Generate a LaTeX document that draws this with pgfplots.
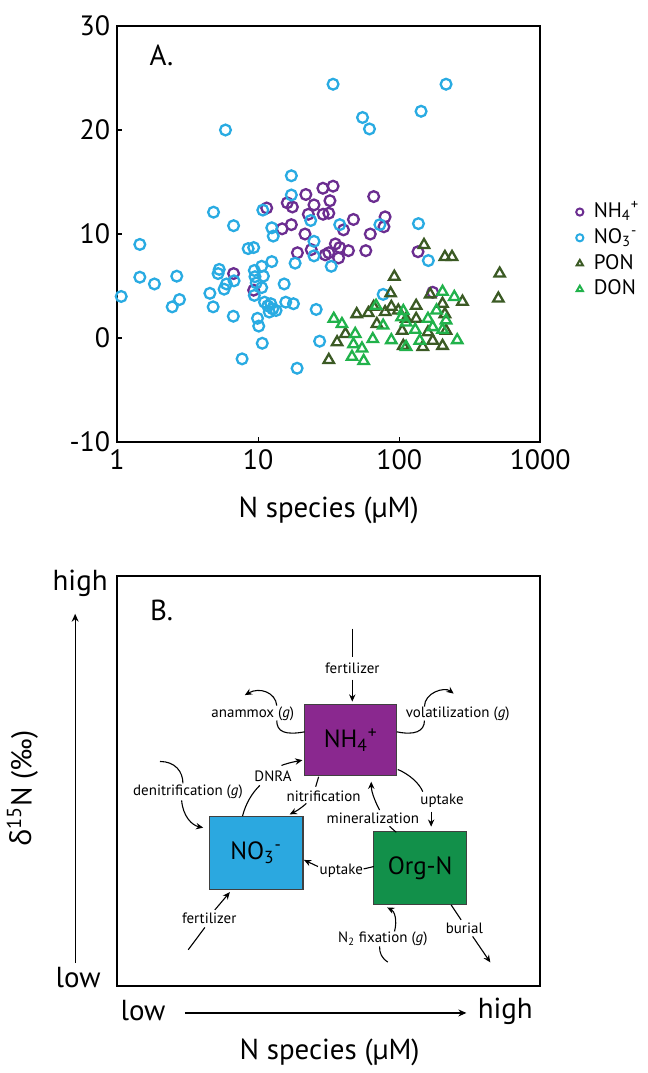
\documentclass[border=0pt]{standalone}
\usepackage{fontspec}
\setmainfont{PT Sans}
\newfontfamily\grk{Open Sans}
\usepackage{pgfplots}
\pgfplotsset{compat=1.18}
\usepackage{pgfplotstable}
\usetikzlibrary{arrows.meta}

\definecolor{cNH}{HTML}{6B2D90}
\definecolor{cNO}{HTML}{29ABE2}
\definecolor{cPON}{HTML}{3B5A24}
\definecolor{cDON}{HTML}{21B24B}
\definecolor{bNH}{HTML}{8A288F}
\definecolor{bNO}{HTML}{2BA8E0}
\definecolor{bORG}{HTML}{12904A}

\pgfplotstableread{
x y
6.7 6.2
9.3 4.6
11.5 12.5
14.8 10.5
16.1 13.0
17.5 12.6
17.2 10.9
21.5 10.0
19.0 8.2
23.8 8.5
21.8 13.8
24.9 12.8
22.7 11.9
28.8 14.4
28.9 11.9
34 14.6
32.3 13.2
31.7 12.0
66 13.6
79.5 11.65
47.4 11.4
40.3 10.4
62.4 10.0
35.3 9.05
37.9 8.7
43.7 8.4
58 8.4
31.7 8.2
37.2 7.7
136 8.3
173 4.4
78 10.7
29.9 8.0
}\nhdata

\pgfplotstableread{
x y
1.07 4.0
1.45 9.0
1.45 5.85
1.84 5.2
2.65 5.95
2.77 3.7
2.46 3.0
4.55 4.3
4.8 3.0
5.3 6.6
5.2 6.2
5.96 5.2
5.74 4.7
6.75 5.5
6.67 2.1
7.7 -2.0
8.5 8.6
9.3 8.7
9.4 6.5
9.5 5.9
9.7 5.3
9.4 4.1
10.6 6.9
10.9 5.95
10.6 4.85
12.5 7.35
9.9 1.9
10.1 1.15
10.7 -0.5
11.1 3.45
11.7 3.1
12.3 3.3
12.7 2.8
13.4 2.65
12.0 2.5
15.3 5.2
15.7 3.45
17.8 3.3
18.3 7.2
18.9 -2.9
25.8 2.75
27.3 -0.3
24.9 9.3
12.5 10.6
12.8 9.8
6.7 10.8
5.87 20.0
17.2 15.6
17.2 13.75
23.6 11.3
4.83 12.1
10.8 12.3
34 24.4
215 24.4
55 21.2
61.6 20.1
143 21.8
37.9 10.9
73 10.9
137 11.0
161 7.45
77 4.2
33 6.9
24.9 7.9
}\nodata

\pgfplotstableread{
x y
150 8.95
211 7.8
237 7.8
516 6.2
505 3.8
92.4 5.9
87 4.3
166 4.2
281 3.5
203 3.3
132 3.1
88 3.0
50 2.3
60.5 2.4
79.5 2.5
98.6 2.65
211 2.3
69.5 1.35
132 1.85
41.6 0.4
105 0.7
160 0.55
215 0.7
36.3 -0.4
107 -0.75
147 -0.85
173 -0.25
203 -0.75
31.7 -2.1
66 3.0
112 1.85
}\pondata

\pgfplotstableread{
x y
203 4.45
246 3.95
68.6 3.1
107 2.6
34.4 1.85
39.3 1.35
112 1.5
160 1.85
77 1.2
173 1.05
203 0.8
130 0.8
48.8 0.4
65 -0.1
88 -0.2
140 -0.25
258 -0.2
47.4 -0.6
54.5 -1.0
112 -0.85
46.3 -1.8
56 -2.2
215 1.7
184 2.65
104 2.0
}\dondata

\newcommand\bigf{\fontsize{14.5}{17}\selectfont}
\newcommand\lab{\fontsize{7.5}{9}\selectfont}

\begin{document}
\begin{tikzpicture}
\path (0,0) rectangle (324pt,-536.5pt);

\begin{axis}[
  at={(58.5pt,-221.5pt)}, anchor=south west,
  scale only axis, width=212pt, height=208.5pt,
  xmode=log, xmin=1, xmax=1000, ymin=-10, ymax=30,
  xtick={1,10,100,1000}, xticklabels={1,10,100,1000},
  ytick={-10,0,10,20,30}, yticklabels={-10,0,10,20,30},
  xminorticks=false, tick align=inside, xtick pos=bottom, ytick pos=left,
  major tick length=2.5pt, tick style={black, line width=0.6pt},
  axis line style={line width=0.9pt},
  ticklabel style={font=\fontsize{14}{16}\selectfont},
  /pgf/number format/assume math mode=true,
  xlabel={N species (µM)},
  xlabel style={font=\bigf, at={(axis description cs:0.5,-0.165)}, anchor=center},
  clip=false,
  legend style={at={(1.07,0.46)}, anchor=west, draw=none, fill=none,
    font=\fontsize{10.5}{12}\selectfont, row sep=0pt,
    nodes={inner sep=1.2pt, text height=8pt, text depth=2.5pt},
    /tikz/every odd column/.append style={column sep=4pt}},
  legend cell align=left,
  legend image code/.code={\draw[#1, mark size=1.8pt, line width=1pt] plot coordinates {(0.1cm,0cm)};},
]
\addplot[only marks, mark=o, color=cNH, mark size=2.7pt, line width=1.15pt] table {\nhdata};
\addplot[only marks, mark=o, color=cNO, mark size=2.7pt, line width=1.15pt] table {\nodata};
\addplot[only marks, mark=triangle, color=cPON, mark size=3pt, line width=1.15pt] table {\pondata};
\addplot[only marks, mark=triangle, color=cDON, mark size=3pt, line width=1.15pt] table {\dondata};
\legend{NH\textsubscript{4}\textsuperscript{+}, NO\textsubscript{3}\textsuperscript{-}, PON, DON}
\node[anchor=west, font=\bigf] at (axis description cs:0.06,0.93) {A.};
\end{axis}

\begin{axis}[
  at={(58.5pt,-494pt)}, anchor=south west,
  scale only axis, width=212pt, height=205.5pt,
  xmin=117, xmax=541, ymin=-988, ymax=-577,
  xtick=\empty, ytick=\empty,
  axis line style={line width=0.9pt},
  clip=false,
]
\tikzset{ar/.style={line width=0.55pt, -{Stealth[length=3.6pt, width=3.2pt]}},
         ln/.style={line width=0.55pt}}
% boxes
\draw[fill=bNH, draw=black!75, line width=0.6pt] (305,-705.7) rectangle (397.3,-777.3);
\node[font=\fontsize{12.5}{14}\selectfont] at (351.2,-741.5) {NH\textsubscript{4}\textsuperscript{+}};
\draw[fill=bNO, draw=black!75, line width=0.6pt] (209.3,-818) rectangle (303.3,-891);
\node[font=\fontsize{12.5}{14}\selectfont] at (256.3,-854.5) {NO\textsubscript{3}\textsuperscript{-}};
\draw[fill=bORG, draw=black!75, line width=0.6pt] (374.3,-833.3) rectangle (467,-906);
\node[font=\fontsize{12.5}{14}\selectfont] at (420.7,-869.7) {Org-N};
% fertilizer (top)
\draw[ln] (352.7,-630) -- (352.7,-658);
\node[font=\lab] at (352.7,-670) {fertilizer};
\draw[ar] (352.7,-681) -- (352.7,-703);
% anammox
\node[font=\lab] at (253,-715) {anammox (\textit{g})};
\draw[ln] (305,-733.3) .. controls (285,-737) and (277,-733) .. (277,-722);
\draw[ar] (277,-707) .. controls (276,-694) and (260,-688) .. (245,-696.5);
% volatilization
\node[font=\lab] at (458.3,-715) {volatilization (\textit{g})};
\draw[ln] (397.3,-733.3) .. controls (415,-737) and (425,-733) .. (425,-722);
\draw[ar] (425,-708) .. controls (425,-694) and (445,-688) .. (454.3,-695);
% DNRA
\node[font=\lab] at (273.3,-778.3) {DNRA};
\draw[ln] (242.7,-817.7) .. controls (246,-805) and (252,-795) .. (260,-787);
\draw[ar] (281.7,-767) .. controls (290,-764) and (296,-763) .. (302.7,-761.7);
% nitrification
\node[font=\lab] at (324,-798.3) {nitrification};
\draw[ln] (319,-778.3) -- (316,-788.3);
\draw[ar] (306.7,-805) .. controls (300,-811) and (296,-813) .. (290,-816);
% mineralization
\node[font=\lab] at (373.3,-820) {mineralization};
\draw[ln] (396.7,-834) -- (390,-828);
\draw[ar] (380,-811.7) .. controls (374,-800) and (371.7,-792) .. (371.7,-783.3);
% uptake right
\node[font=\lab] at (442.7,-802.3) {uptake};
\draw[ln] (398.3,-771) .. controls (410,-776) and (420,-785) .. (423.3,-793.3);
\draw[ar] (431.7,-813.3) -- (431.7,-828.3);
% uptake middle
\node[font=\lab] at (341.7,-872.7) {uptake};
\draw[ln] (374.3,-868.3) -- (364,-870.7);
\draw[ar] (318.3,-868.3) -- (304.3,-861.7);
% fertilizer (bottom)
\node[font=\lab] at (209.3,-920) {fertilizer};
\draw[ln] (188.3,-951.7) -- (205,-929.3);
\draw[ar] (215,-911.7) -- (230,-894);
% N2 fixation
\node[font=\lab] at (383.3,-940.7) {N\textsubscript{2} fixation (\textit{g})};
\draw[ln] (388.3,-964) .. controls (382,-960) and (380,-955) .. (380,-948.3);
\draw[ar] (395,-933.3) .. controls (398,-922) and (395,-913) .. (387.7,-909.3);
% burial
\node[font=\lab] at (465,-930) {burial};
\draw[ln] (451.7,-906.7) -- (461.7,-921.7);
\draw[ar] (473.3,-938.3) -- (491,-964.3);
% denitrification
\node[font=\lab] at (188,-793.3) {denitrification (\textit{g})};
\draw[ln] (160,-763) .. controls (175,-763) and (183,-773) .. (183,-785);
\draw[ar] (181.7,-802) .. controls (183,-818) and (192,-827) .. (203.3,-829.3);
% panel letter
\node[anchor=west, font=\bigf] at (143,-612) {B.};
% outer axis annotations
\node[font=\bigf] at (80,-585) {high};
\node[font=\bigf] at (78,-980) {low};
\draw[line width=0.6pt, -{Stealth[length=4pt, width=3.5pt]}] (75,-965) -- (75,-615);
\node[font=\bigf, rotate=90] at (22,-790) {{\grk δ}\textsuperscript{15}N (‰)};
\node[font=\bigf] at (143,-1013) {low};
\draw[line width=0.6pt, -{Stealth[length=4pt, width=3.5pt]}] (185,-1015) -- (467,-1015);
\node[font=\bigf] at (506,-1013) {high};
\node[font=\bigf] at (330,-1055) {N species (µM)};
\end{axis}
\end{tikzpicture}
\end{document}
